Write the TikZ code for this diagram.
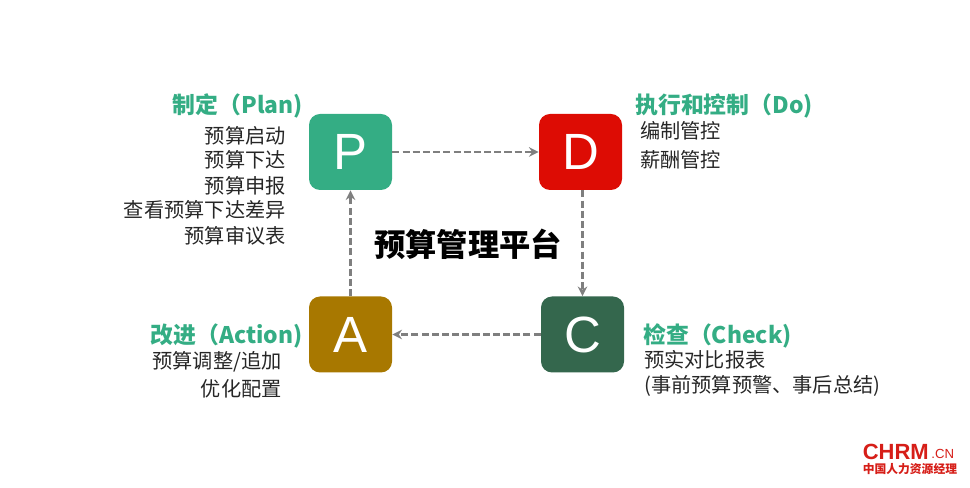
\documentclass[tikz,border=0pt]{standalone}
\usepackage{fontspec}
\setmainfont{Noto Sans CJK SC}
\newfontfamily\letterfont{Liberation Sans}
\usetikzlibrary{arrows.meta}
\definecolor{pgreen}{RGB}{52,173,132}
\definecolor{dred}{RGB}{221,12,4}
\definecolor{cgreen}{RGB}{52,103,77}
\definecolor{agold}{RGB}{168,120,0}
\definecolor{linegray}{RGB}{127,127,127}
\definecolor{logored}{RGB}{214,30,24}
\tikzset{
  letterbox/.style={rounded corners=0.22cm,minimum width=1.66cm,minimum height=1.52cm,inner sep=0pt,text=white,font=\letterfont\fontsize{29}{29}\selectfont},
  titletext/.style={text=pgreen,inner sep=0pt,font=\fontsize{13}{15}\bfseries\selectfont},
  itemtext/.style={text=black!85,inner sep=0pt,font=\fontsize{11.5}{14}\selectfont},
  flowline/.style={draw=linegray,line width=1.3pt,dash pattern=on 4pt off 1.8pt,-{Stealth[length=5.5pt,width=5.5pt]}},
}
\begin{document}
\begin{tikzpicture}
        \useasboundingbox(0,0)rectangle(19.4,9.76);
        \node[letterbox,fill=pgreen](nodeP)at(7.01,6.72){P};
        \node[letterbox,fill=dred](nodeD)at(11.61,6.72){D};
        \node[letterbox,fill=cgreen](nodeC)at(11.65,3.07){C};
        \node[letterbox,fill=agold](nodeA)at(7.01,3.07){A};
        \draw[flowline](nodeP)--(nodeD);
        \draw[flowline](nodeD.south-|nodeC)--(nodeC);
        \draw[flowline](nodeC)--(nodeA);
        \draw[flowline](nodeA)--(nodeP);
        \node[font=\fontsize{17.8}{20}\bfseries\selectfont,inner sep=0pt](platform)at(9.36,4.88){预算管理平台};
        % plan
        \node[titletext,anchor=east](titleP)at(6.06,7.65){制定（Plan)};
        \foreach \name/\ypos/\txt in {a/7.04/预算启动,b/6.56/预算下达,c/6.05/预算申报,d/5.56/查看预算下达差异,e/5.04/预算审议表}
            \node[itemtext,anchor=east](plan\name)at(5.72,\ypos){\txt};
        % do
        \node[titletext,anchor=west](titleD)at(12.7,7.65){执行和控制（Do)};
        \node[itemtext,anchor=west](doa)at(12.8,7.14){编制管控};
        \node[itemtext,anchor=west](dob)at(12.8,6.56){薪酬管控};
        % check
        \node[titletext,anchor=west](titleC)at(12.86,3.05){检查（Check)};
        \node[itemtext,anchor=west](checka)at(12.88,2.56){预实对比报表};
        \node[itemtext,anchor=west](checkb)at(12.88,2.04){(事前预算预警、事后总结)};
        % action
        \node[titletext,anchor=east](titleA)at(6.06,3.05){改进（Action)};
        \node[itemtext,anchor=east](actiona)at(5.64,2.52){预算调整/追加};
        \node[itemtext,anchor=east](actionb)at(5.64,1.99){优化配置};
        % logo
        \node[text=logored,inner sep=0pt,anchor=west,font=\letterfont\fontsize{12.5}{13}\bfseries\selectfont](logo)at(17.25,0.72){CHRM};
        \node[text=logored,inner sep=0pt,anchor=west,font=\letterfont\fontsize{7.5}{8}\selectfont](logocn)at(18.62,0.68){.CN};
        \node[text=logored,inner sep=0pt,anchor=west,font=\fontsize{6.7}{8}\bfseries\selectfont](logotext)at(17.25,0.38){中国人力资源经理};
    \end{tikzpicture}
\end{document}
